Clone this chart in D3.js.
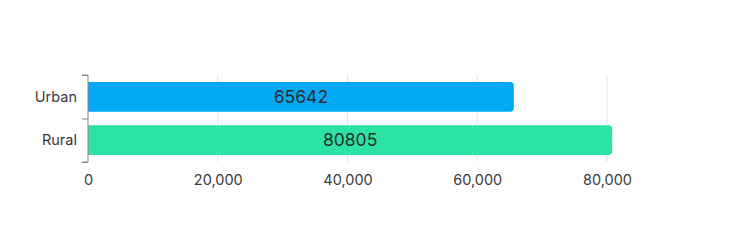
<!DOCTYPE html>
<html>
<head>
<meta charset="utf-8">
<script src="https://cdn.jsdelivr.net/npm/d3@7"></script>
<style>
  html, body { margin: 0; padding: 0; background: #fff; }
  body { font-family: Inter, "Noto Sans", sans-serif; }
</style>
</head>
<body>
<div id="chart"></div>
<script>
const categories = ['Urban', 'Rural'];
const values = [65642, 80805];
const colors = ['#03a9f4', '#2de3a3'];
const xTicks = [0, 20000, 40000, 60000, 80000];

const w = 736;
const h = 250;
const padLeft = 88;
const xMax = 80000;
const xEnd = 607;
const plotTop = 75;
const plotBottom = 162;

const svg = d3.select('#chart')
  .append('svg')
  .attr('width', w)
  .attr('height', h);

const xScale = d3.scaleLinear()
  .domain([0, xMax])
  .range([padLeft, xEnd]);

const yScale = d3.scaleBand()
  .domain(categories)
  .range([plotTop, plotBottom])
  .paddingInner(0.31)
  .paddingOuter(0.16);

// gridlines
svg.append('g')
  .selectAll('line')
  .data(xTicks.slice(1))
  .enter()
  .append('line')
  .attr('x1', (d) => xScale(d))
  .attr('x2', (d) => xScale(d))
  .attr('y1', plotTop)
  .attr('y2', plotBottom)
  .attr('stroke', '#e4e4ec')
  .attr('stroke-width', 1);

// bars (rounded on the right)
const bh = yScale.bandwidth();
const r = 4;
svg.append('g')
  .selectAll('path')
  .data(categories)
  .enter()
  .append('path')
  .attr('d', (d, i) => {
    const x0 = xScale(0), x1 = xScale(values[i]);
    const y0 = yScale(d), y1 = y0 + bh;
    return 'M' + x0 + ',' + y0 + 'H' + (x1 - r) +
      'Q' + x1 + ',' + y0 + ' ' + x1 + ',' + (y0 + r) +
      'V' + (y1 - r) +
      'Q' + x1 + ',' + y1 + ' ' + (x1 - r) + ',' + y1 +
      'H' + x0 + 'Z';
  })
  .attr('fill', (d, i) => colors[i]);

// value labels
svg.append('g')
  .selectAll('text')
  .data(categories)
  .enter()
  .append('text')
  .attr('x', (d, i) => (xScale(0) + xScale(values[i])) / 2)
  .attr('y', (d) => yScale(d) + bh / 2)
  .attr('dy', '0.36em')
  .attr('text-anchor', 'middle')
  .style('font-size', '17.5px')
  .style('fill', '#2b2b2b')
  .text((d, i) => values[i]);

// x axis (labels only)
const xAxis = d3.axisBottom(xScale)
  .tickValues(xTicks)
  .tickFormat(d3.format(','))
  .tickSize(0)
  .tickPadding(0);

svg.append('g')
  .attr('transform', 'translate(0,' + 185 + ')')
  .call(xAxis)
  .call((g) => g.select('.domain').remove())
  .call((g) => g.selectAll('text')
    .attr('dy', 0)
    .style('font-family', 'Inter, "Noto Sans", sans-serif')
    .style('font-size', '14.5px')
    .style('fill', '#3a3a3a'));

// y axis
const yAxisScale = d3.scalePoint()
  .domain(['a', 'b', 'c'])
  .range([plotTop, plotBottom]);

svg.append('g')
  .attr('transform', 'translate(' + padLeft + ',0)')
  .call(d3.axisLeft(yAxisScale).tickSize(6).tickFormat(''))
  .call((g) => g.select('.domain').attr('d', 'M-6,' + plotTop + 'H0V' + plotBottom + 'H-6'))
  .call((g) => g.selectAll('line').attr('stroke', '#888'))
  .call((g) => g.select('.domain').attr('stroke', '#888'));

svg.append('g')
  .selectAll('text')
  .data(categories)
  .enter()
  .append('text')
  .attr('x', padLeft - 11)
  .attr('y', (d) => yScale(d) + bh / 2)
  .attr('dy', '0.36em')
  .attr('text-anchor', 'end')
  .style('font-size', '14.5px')
  .style('fill', '#3a3a3a')
  .text((d) => d);
</script>
</body>
</html>
